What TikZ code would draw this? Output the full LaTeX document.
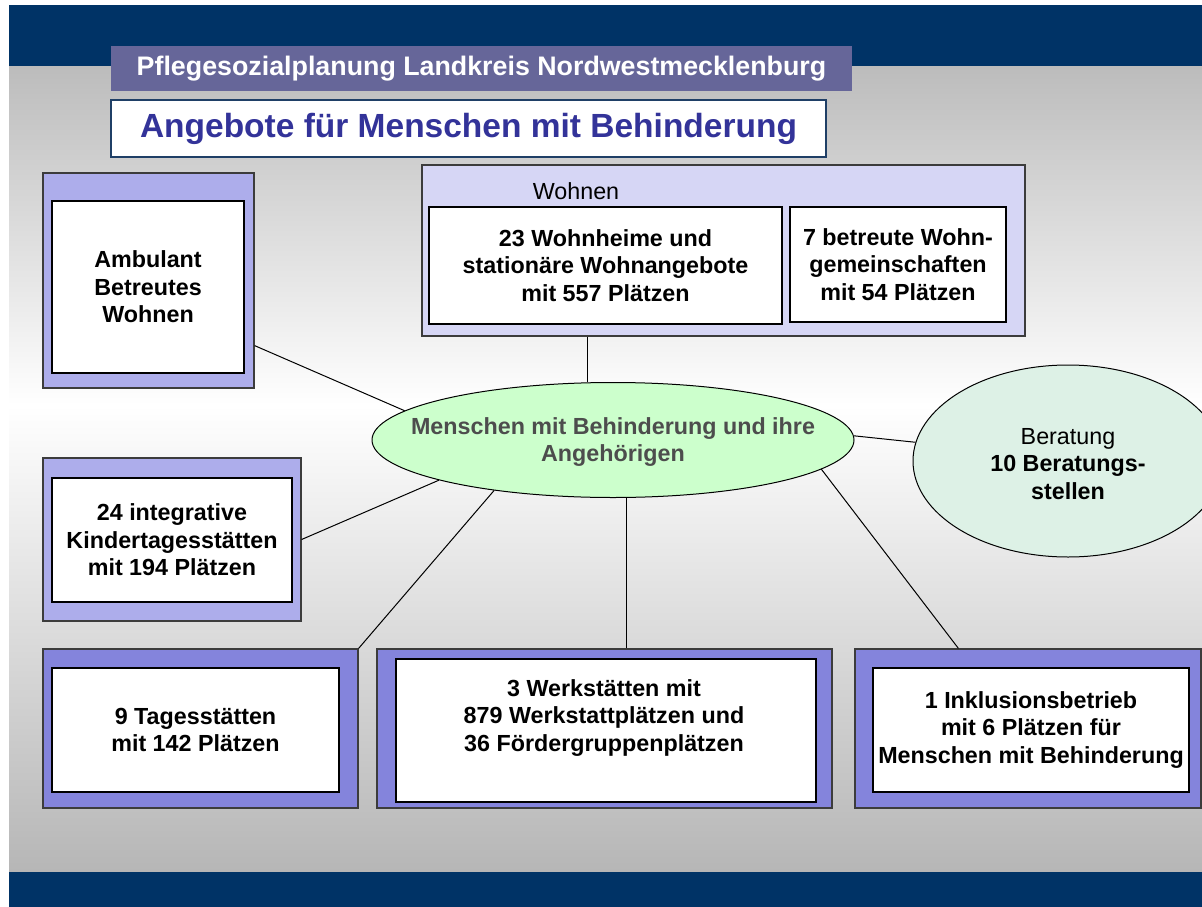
\documentclass[tikz,border=0pt]{standalone}
\usepackage{fontspec}
\setmainfont{Liberation Sans}
\usetikzlibrary{shapes.geometric}
\definecolor{bandblue}{RGB}{0,51,102}
\definecolor{headpurple}{RGB}{102,102,153}
\definecolor{titleblue}{RGB}{51,51,153}
\definecolor{titleborder}{RGB}{31,63,102}
\definecolor{lavlight}{RGB}{173,173,235}
\definecolor{lavdark}{RGB}{132,132,220}
\definecolor{lavpale}{RGB}{214,214,245}
\definecolor{ellgreen}{RGB}{204,255,204}
\definecolor{bergreen}{RGB}{221,241,230}
\definecolor{bggray}{RGB}{188,188,188}
\definecolor{bggraybot}{RGB}{182,182,182}
\definecolor{boxborder}{RGB}{60,60,60}
\definecolor{elltext}{RGB}{77,77,77}
\newcommand\bodyfont{\fontsize{23.3}{27.5}\selectfont}
\begin{document}
\begin{tikzpicture}[x=1pt,y=-1pt,
  outerbox/.style={rectangle, draw=boxborder, line width=1.2pt, inner sep=0pt},
  innerbox/.style={rectangle, draw=black, fill=white, line width=1.2pt, inner sep=0pt, align=center, font=\bodyfont\bfseries},
  txt/.style={inner sep=0pt, align=center, font=\bodyfont\bfseries},
  conn/.style={draw=black, line width=1pt}
]
\useasboundingbox (0,0) rectangle (1202,907);
\clip (0,0) rectangle (1202,907);
\fill[white] (0,0) rectangle (1202,907);
% background
\shade[top color=bggray, bottom color=white] (9,66) rectangle (1202,405);
\shade[top color=white, bottom color=bggraybot] (9,405) rectangle (1202,872);
\fill[bandblue] (9,5) rectangle (1202,66);
\fill[bandblue] (9,872) rectangle (1202,907);
% header
\node[fill=headpurple, minimum width=741pt, minimum height=45pt, inner sep=0pt,
  text=white, font=\fontsize{26.8}{30}\selectfont\bfseries] (head) at (481.5,68.5)
  {Pflegesozialplanung Landkreis Nordwestmecklenburg};
\node[fill=white, draw=titleborder, line width=1.3pt, minimum width=715pt, minimum height=57pt, inner sep=0pt,
  text=titleblue, font=\fontsize{33.5}{38}\selectfont\bfseries] (title) at (468.5,128.5)
  {Angebote für Menschen mit Behinderung};
% Ambulant
\node[outerbox, fill=lavlight, minimum width=211pt, minimum height=215pt] (amb) at (148.5,280.5) {};
\node[innerbox, minimum width=192pt, minimum height=172pt] (ambi) at (148,287) {Ambulant\\Betreutes\\Wohnen};
% Wohnen
\node[outerbox, fill=lavpale, minimum width=603pt, minimum height=171pt] (woh) at (723.5,250.5) {};
\node[inner sep=0pt, font=\bodyfont] (wohl) at (576,191) {Wohnen};
\node[innerbox, minimum width=353pt, minimum height=117pt] (wohi1) at (605.5,265.5)
  {23 Wohnheime und\\stationäre Wohnangebote\\mit 557 Plätzen};
\node[innerbox, minimum width=216pt, minimum height=115pt] (wohi2) at (898,264.5)
  {7 betreute Wohn-\\gemeinschaften\\mit 54 Plätzen};
% center ellipse
\node[ellipse, draw=black, line width=1pt, fill=ellgreen, minimum width=482pt, minimum height=115pt, inner sep=0pt] (ell) at (613,440) {};
\node[txt, text=elltext] (ellt) at (613,442) {Menschen mit Behinderung und ihre\\Angehörigen};
% Beratung
\node[ellipse, draw=black, line width=1pt, fill=bergreen, minimum width=310pt, minimum height=192pt, inner sep=0pt] (ber) at (1068,461) {};
\node[inner sep=0pt, align=center, font=\bodyfont] (bert) at (1068,464) {Beratung\\\textbf{10 Beratungs-}\\\textbf{stellen}};
% Kinder
\node[outerbox, fill=lavlight, minimum width=258pt, minimum height=163pt] (kin) at (172,539.5) {};
\node[innerbox, minimum width=240pt, minimum height=124pt] (kini) at (172,540)
  {24 integrative\\Kindertagesstätten\\mit 194 Plätzen};
% Tagesstaetten
\node[outerbox, fill=lavdark, minimum width=315pt, minimum height=159pt] (tag) at (200.5,728.5) {};
\node[innerbox, minimum width=287pt, minimum height=124pt] (tagi) at (195.5,730)
  {9 Tagesstätten\\mit 142 Plätzen};
% Werkstaetten
\node[outerbox, fill=lavdark, minimum width=455pt, minimum height=159pt] (wer) at (604.5,728.5) {};
\node[innerbox, minimum width=420pt, minimum height=143pt] (weri) at (606,730.5) {};
\node[txt] (wert) at (604,718) {3 Werkstätten mit\\879 Werkstattplätzen und\\36 Fördergruppenplätzen};
% Inklusion
\node[outerbox, fill=lavdark, minimum width=346pt, minimum height=159pt] (ink) at (1028,728.5) {};
\node[innerbox, minimum width=316pt, minimum height=124pt] (inki) at (1031,730)
  {1 Inklusionsbetrieb\\mit 6 Plätzen für\\Menschen mit Behinderung};
% connectors
\draw[conn] ([yshift=43pt]amb.south east) -- (ell.172);
\draw[conn] ([xshift=-136.5pt]woh.south) -- ([xshift=-136.5pt]woh.south |- ell.north);
\draw[conn] (ell.1) -- (ber.173);
\draw[conn] (kin.east) -- (ell.193);
\draw[conn] (tag.north east) -- (ell.203);
\draw[conn] ([xshift=21.5pt]wer.north) -- ([xshift=21.5pt]wer.north |- ell.south);
\draw[conn] ([xshift=104pt]ink.north west) -- (ell.352);
\end{tikzpicture}
\end{document}
